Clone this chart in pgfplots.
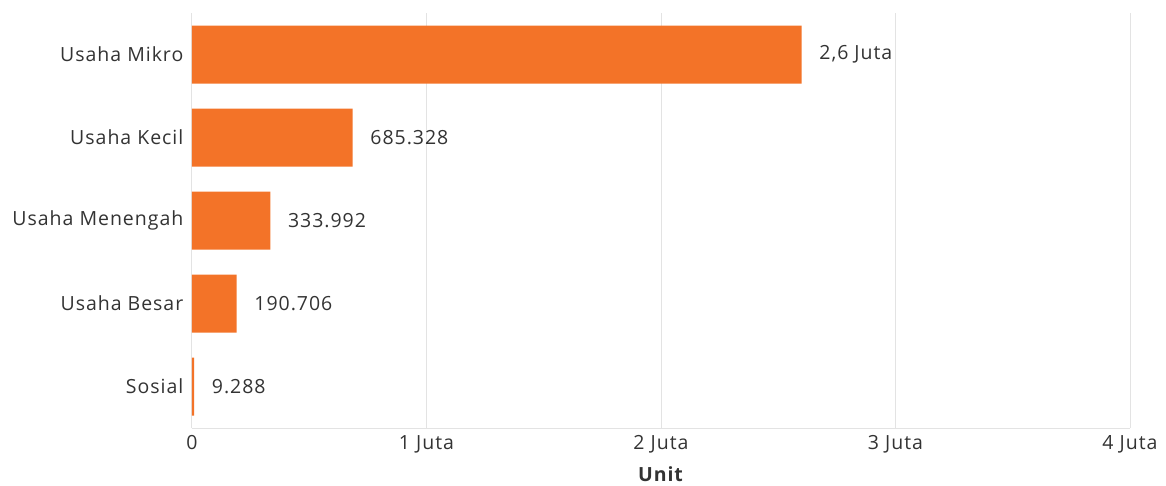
\documentclass[border=0pt]{standalone}
\usepackage{pgfplots}
\pgfplotsset{compat=1.18}
\usepackage{fontspec}
\setmainfont[LetterSpace=5]{Open Sans}
\definecolor{barc}{HTML}{F37328}
\definecolor{gridc}{HTML}{E3E3E3}
\definecolor{txt}{HTML}{333333}
\begin{document}
\fontsize{19.5}{23}\selectfont
\begin{tikzpicture}[x=1pt,y=1pt]
\useasboundingbox (-192,-57) rectangle (974,428);
\begin{axis}[
  at={(0,0)}, anchor=south west,
  scale only axis, width=938pt, height=415pt,
  xbar, bar width=58pt,
  xmin=0, xmax=4, ymin=-0.5, ymax=4.5,
  xtick={0,1,2,3,4}, xticklabels={0,1 Juta,2 Juta,3 Juta,4 Juta},
  ytick={0,1,2,3,4},
  yticklabels={Sosial,Usaha Besar,Usaha Menengah,Usaha Kecil,Usaha Mikro},
  xmajorgrids, grid style={gridc, line width=1pt},
  axis x line*=bottom, axis y line*=left,
  axis line style={gridc, line width=1pt},
  major tick length=0pt,
  tick label style={font=\fontsize{19.5}{23}\selectfont, text=txt},
  yticklabel style={xshift=-2pt},
  xticklabel style={yshift=-1pt},
  xlabel={\textbf{Unit}},
  xlabel style={at={(rel axis cs:0.5,0)}, anchor=center, yshift=-46pt, font=\fontsize{19.5}{23}\selectfont, text=txt},
  nodes near coords, point meta=explicit symbolic,
  nodes near coords style={anchor=west, xshift=11pt, font=\fontsize{19.5}{23}\selectfont, text=txt},
  clip=false,
]
\addplot[fill=barc, draw=none] coordinates {
  (2.6,4) [2,6 Juta]
  (0.685328,3) [685.328]
  (0.333992,2) [333.992]
  (0.190706,1) [190.706]
  (0.009288,0) [9.288]
};
\end{axis}
\end{tikzpicture}
\end{document}
